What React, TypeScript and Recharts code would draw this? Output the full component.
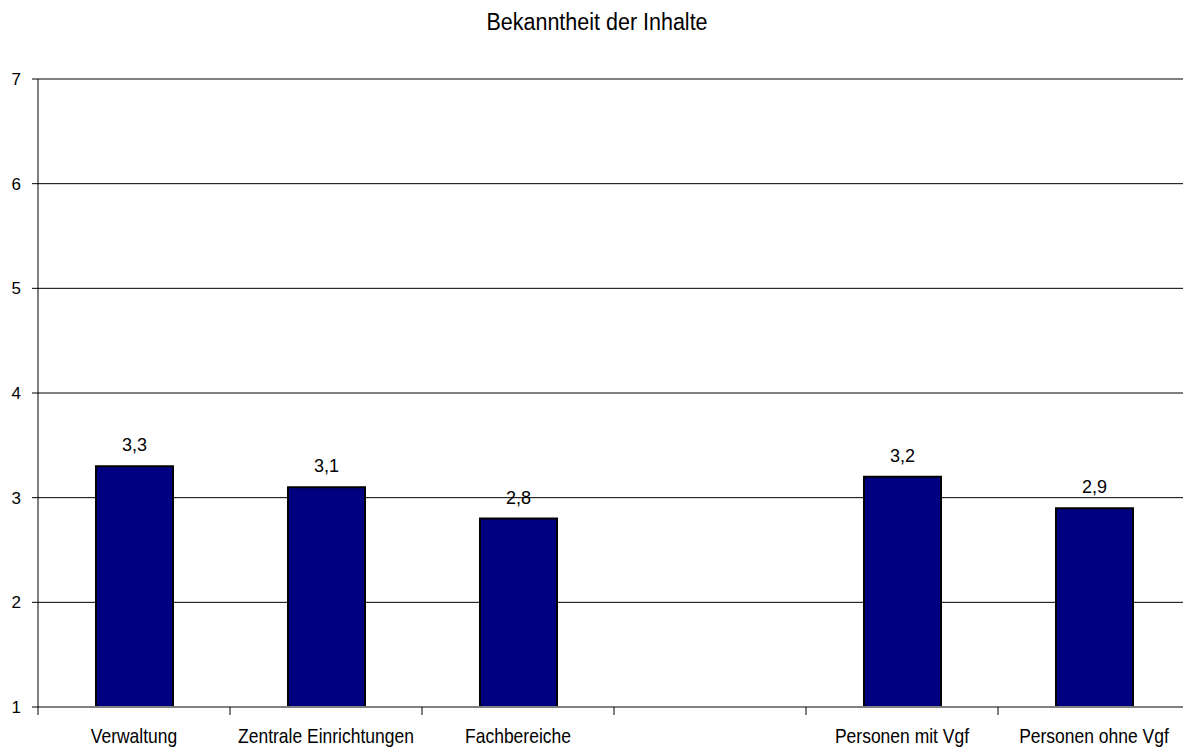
import { BarChart, Bar, XAxis, YAxis, CartesianGrid, ReferenceLine, LabelList } from "recharts";

const categories = ["Verwaltung", "Zentrale Einrichtungen", "Fachbereiche", "", "Personen mit Vgf", "Personen ohne Vgf"];
const values: (number | null)[] = [3.3, 3.1, 2.8, null, 3.2, 2.9];
const yTicks = [1, 2, 3, 4, 5, 6, 7];
const innerGrid = [2, 3, 4, 5, 6];

const FONT = '"Liberation Sans", Arial, sans-serif';
const CHART_W = 1200;
const CHART_H = 749;
const MARGIN = { top: 79, right: 10, bottom: 0, left: 0 };
const Y_W = 38;
const STEP = (CHART_W - MARGIN.left - MARGIN.right - Y_W) / categories.length;

const data = categories.map((name, i) => ({ name, value: values[i] }));

// label under each band + small tick at the band's left edge
function CategoryTick(props: any) {
  const { x, y, payload } = props;
  const left = x - STEP / 2;
  return (
    <g>
      <line x1={left} x2={left} y1={y} y2={y + 8} stroke="#000" />
      <text
        x={x}
        y={y + 36}
        textAnchor="middle"
        fill="#000"
        fontSize={17.5}
        fontFamily={FONT}
        transform={`translate(0 ${(y + 36) * -0.12}) scale(1 1.12)`}
      >
        {payload.value}
      </text>
    </g>
  );
}

export default function App() {
  return (
    <div style={{ position: "absolute", left: 0, top: 0, width: 1183, height: 749, overflow: "hidden", background: "#fff", fontFamily: FONT }}>
      <div
        style={{
          position: "absolute",
          left: 597,
          top: 10.5,
          transform: "translateX(-50%) scaleY(1.12)",
          whiteSpace: "nowrap",
          fontSize: 21.5,
          lineHeight: "22px",
          color: "#000",
        }}
      >
        Bekanntheit der Inhalte
      </div>
      <BarChart width={CHART_W} height={CHART_H} data={data} margin={MARGIN}>
        <CartesianGrid vertical={false} stroke="#000" horizontalValues={innerGrid} />
        <ReferenceLine y={7} stroke="#808080" strokeWidth={2} />
        <XAxis
          dataKey="name"
          interval={0}
          height={42}
          tickSize={0}
          tickMargin={0}
          tickLine={false}
          axisLine={{ stroke: "#808080", strokeWidth: 2 }}
          tick={<CategoryTick />}
        />
        <YAxis
          domain={[1, 7]}
          ticks={yTicks}
          width={Y_W}
          tickSize={6}
          tickMargin={11}
          axisLine={{ stroke: "#000" }}
          tickLine={{ stroke: "#000" }}
          tick={{ fill: "#000", fontSize: 17, fontFamily: FONT }}
        />
        <Bar dataKey="value" fill="#000080" stroke="#000" strokeWidth={2} barSize={77} isAnimationActive={false}>
          <LabelList
            dataKey="value"
            position="top"
            offset={15}
            fill="#000"
            fontSize={18}
            fontFamily={FONT}
            formatter={(v: any) => (v == null ? "" : String(v).replace(".", ","))}
          />
        </Bar>
      </BarChart>
    </div>
  );
}
